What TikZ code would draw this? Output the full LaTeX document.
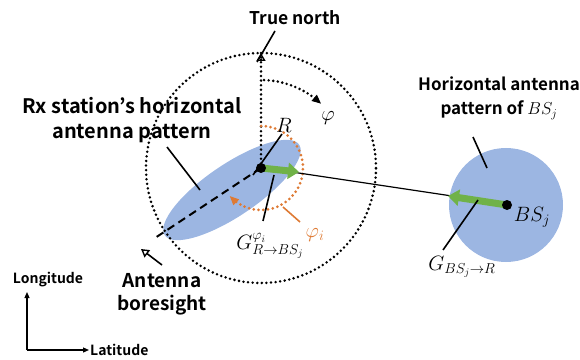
\documentclass[tikz,border=0pt]{standalone}
\usepackage{fontspec}
\setmainfont{Noto Sans CJK KR}[BoldFont={* Bold}]
\usetikzlibrary{arrows.meta,calc}
\definecolor{PatternBlue}{RGB}{156,182,226}
\definecolor{GainGreen}{RGB}{112,178,72}
\definecolor{AngleOrange}{RGB}{222,122,52}
\tikzset{
  leader/.style={draw=black,line width=1.6pt},
  dotline/.style={draw=black,line width=2.8pt,dash pattern=on 0pt off 4.6pt,line cap=round},
  orangedots/.style={draw=AngleOrange,line width=3pt,dash pattern=on 0pt off 4.8pt,line cap=round},
  gain/.style={draw=GainGreen,line width=7pt,-{Triangle[length=11pt,width=16pt]}},
  openhead/.style={-{Triangle[open,length=8pt,width=9pt,line width=1.4pt]}},
  label/.style={font=\fontsize{18}{23}\selectfont\bfseries,align=center,inner sep=1pt},
  mlabel/.style={font=\fontsize{20}{22}\selectfont,inner sep=1pt}
}
\begin{document}
\begin{tikzpicture}[x=1pt,y=1pt]
  \useasboundingbox (0,0) rectangle (580,359);
  % antenna patterns
  \fill[PatternBlue] (232,169) ellipse[x radius=81,y radius=26,rotate=34];
  \fill[PatternBlue] (506,154) circle (57);
  \coordinate (R) at (261,191);
  \coordinate (north) at (261,306);
  \coordinate (bore) at (155,121);
  \coordinate (BS) at (507,154);
  % rotation circle and north
  \draw[dotline] (R) circle (115);
  \draw[dotline] (R) -- (north);
  \draw[black,line width=1.4pt,-{Triangle[open,length=8pt,width=9pt]}] ($(north)+(0,-6)$) -- (north);
  \draw[dotline] ($(R)+(88:88)$) arc (88:52:88);
  \draw[black,line width=1pt,-{Triangle[length=9pt,width=8pt]}] ($(R)+(52:88)$) -- ($(R)+(47:88)$);
  % azimuth of the boresight
  \draw[orangedots] ($(R)+(90:42)$) arc (90:-130:42);
  \draw[AngleOrange,line width=1pt,-{Triangle[length=9pt,width=8pt]}] ($(R)+(-130:42)$) -- ($(R)+(-138:42)$);
  \draw[black,line width=2pt,dash pattern=on 8pt off 5pt] (R) -- (bore);
  % gains and link
  \draw[black,line width=1.2pt] (292,187) -- (452,163);
  \draw[gain] (R) -- (299,187);
  \draw[gain] (BS) -- (448,163);
  \fill (R) circle (5);
  \fill (BS) circle (5);
  % labels
  \node[label,font=\fontsize{17.5}{21}\selectfont\bfseries] (north_txt) at (295,341) {True north};
  \node[label,font=\fontsize{20}{25}\selectfont\bfseries] (rx_txt) at (132,239) {Rx station’s horizontal\\antenna pattern};
  \node[label,font=\fontsize{17}{24}\selectfont\bfseries] (bs_txt) at (499,261) {Horizontal antenna\\pattern of $BS_j$};
  \node[label,font=\fontsize{19}{23}\selectfont\bfseries] (bore_txt) at (162,65) {Antenna\\boresight};
  \node[mlabel] (phi_txt) at (328,241) {$\varphi$};
  \node[mlabel] (R_txt) at (284,234) {$R$};
  \node[mlabel,text=AngleOrange] (phii_txt) at (315,124) {$\varphi_i$};
  \node[mlabel] (GR_txt) at (270,113) {$G_{R\rightarrow BS_j}^{\varphi_i}$};
  \node[mlabel] (GB_txt) at (462,92) {$G_{BS_j\rightarrow R}$};
  \node[mlabel] (BS_txt) at (532,142) {$BS_j$};
  % leaders
  \draw[leader] (275,328) -- (257,297);
  \draw[leader] (167,212) -- (200,169);
  \draw[leader] (473,222) -- (487,191);
  \draw[leader] (282,225) -- (253,184);
  \draw[leader] (263,138) -- (274,184);
  \draw[leader,AngleOrange] (300,137) -- (283,152);
  \draw[leader] (443,109) -- (478,159);
  \draw[leader,openhead] (162,94) -- (141,110);
  % axes
  \node[label,font=\fontsize{14}{16}\selectfont\bfseries] (lon_txt) at (48,79) {Longitude};
  \node[label,font=\fontsize{14}{16}\selectfont\bfseries,anchor=west] (lat_txt) at (89,9) {Latitude};
  \coordinate (origin) at (27,9);
  \draw[line width=1.2pt,-{Triangle[length=6pt,width=5pt]}] (origin) -- (27,67);
  \draw[line width=1.2pt,-{Triangle[length=6pt,width=5pt]}] (origin) -- (lat_txt.west);
\end{tikzpicture}
\end{document}
